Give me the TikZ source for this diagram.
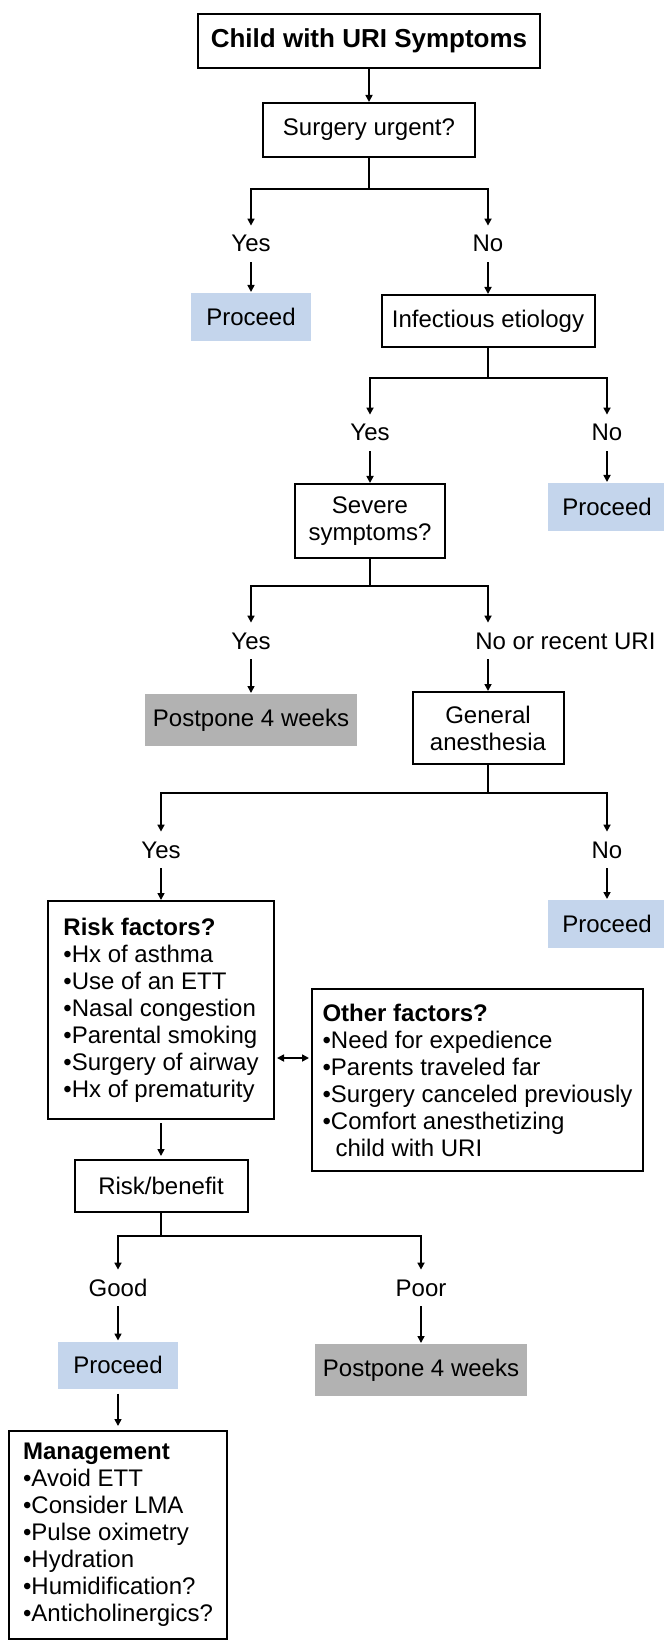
\documentclass[tikz,border=0pt]{standalone}
\usepackage{fontspec}
\setmainfont{Liberation Sans}
\usetikzlibrary{arrows.meta,positioning,calc}
\definecolor{cazul}{HTML}{C4D5EC}
\definecolor{cgris}{HTML}{B2B2B2}
\tikzset{
  caja/.style={draw=black,line width=1pt,align=center,inner sep=0pt,
               font=\fontsize{12}{13.5}\selectfont},
  cajaaz/.style={caja,draw=none,fill=cazul},
  cajagr/.style={caja,draw=none,fill=cgris},
  lista/.style={caja,align=left},
  flecha/.style={-{Triangle[length=3.5pt,width=3.5pt]},line width=0.8pt},
  doble/.style={{Triangle[length=3.5pt,width=3.5pt]}-{Triangle[length=3.5pt,width=3.5pt]},
                line width=0.8pt,shorten <=1pt,shorten >=1pt},
  linea/.style={line width=0.8pt},
  et/.style={font=\fontsize{12}{13.5}\selectfont,inner xsep=0pt,inner ysep=4pt,
             text height=9pt,text depth=0pt},
}

\begin{document}
\begin{tikzpicture}[x=0.5pt,y=-0.5pt]
\useasboundingbox (0,0) rectangle (663,1641);

% ---------------- inicio ----------------
\node[caja,font=\fontsize{13}{15}\selectfont\bfseries,minimum width=171pt,minimum height=27pt]
  (ini) at (369,41) {Child with URI Symptoms};
\node[caja,minimum width=106pt,minimum height=27pt] (urg) at (369,130) {Surgery urgent?};
\draw[flecha] (ini) -- (urg);

% ---------------- urgente ----------------
\coordinate (j1) at (369,189);
\node[et] (si1) at (251,243) {Yes};
\node[et] (no1) at (488,243) {No};
\node[cajaaz,minimum width=60pt,minimum height=24pt] (pro1) at (251,317) {Proceed};
\node[caja,minimum width=106.5pt,minimum height=26pt] (inf) at (488,321) {Infectious etiology};

\draw[linea] (urg) -- (j1);
\draw[flecha] (j1) -| (si1.north);
\draw[flecha] (j1) -| (no1.north);
\draw[flecha,shorten <=1pt] (si1) -- (pro1);
\draw[flecha,shorten <=1pt] (no1) -- (inf);

% ---------------- etiologia ----------------
\coordinate (j2) at (488,378);
\node[et] (si2) at (370,432) {Yes};
\node[et] (no2) at (607,432) {No};
\node[caja,minimum width=75pt,minimum height=37pt] (sev) at (370,521) {Severe\\symptoms?};
\node[cajaaz,minimum width=59pt,minimum height=24pt] (pro2) at (607,507) {Proceed};

\draw[linea] (inf) -- (j2);
\draw[flecha] (j2) -| (si2.north);
\draw[flecha] (j2) -| (no2.north);
\draw[flecha,shorten <=1pt] (si2) -- (sev);
\draw[flecha,shorten <=1pt] (no2) -- (pro2);

% ---------------- sintomas ----------------
\coordinate (j3) at (370,586);
\node[et] (si3) at (251,640) {Yes};
\node[et,anchor=west] (no3) at (475,640) {No or recent URI};
\node[cajagr,minimum width=106pt,minimum height=26pt] (pos1) at (251,720) {Postpone 4 weeks};
\node[caja,minimum width=75.5pt,minimum height=36pt] (gen) at (488,728) {General\\anesthesia};

\draw[linea] (sev) -- (j3);
\draw[flecha] (j3) -| (si3.north);
\draw[flecha] (j3) -| (no3.north -| gen.north);
\draw[flecha,shorten <=1pt] (si3) -- (pos1);
\draw[flecha,shorten <=1pt] (no3.south -| gen.north) -- (gen.north);

% ---------------- anestesia ----------------
\coordinate (j4) at (488,793);
\node[et] (si4) at (161,849) {Yes};
\node[et] (no4) at (607,849) {No};
\node[lista,minimum width=113pt,minimum height=109pt] (rf) at (161,1010)
  {\textbf{Risk factors?}\\•Hx of asthma\\•Use of an ETT\\•Nasal congestion\\
   •Parental smoking\\•Surgery of airway\\•Hx of prematurity};
\node[cajaaz,minimum width=59pt,minimum height=24pt] (pro3) at (607,924) {Proceed};
\node[lista,minimum width=165.5pt,minimum height=91pt] (otr) at (477.5,1080)
  {\textbf{Other factors?}\\•Need for expedience\\•Parents traveled far\\
   •Surgery canceled previously\\•Comfort anesthetizing\\\hspace*{6.5pt}child with URI};

\draw[linea] (gen) -- (j4);
\draw[flecha] (j4) -| (si4.north);
\draw[flecha] (j4) -| (no4.north);
\draw[flecha,shorten <=1pt] (si4) -- (rf);
\draw[flecha,shorten <=1pt] (no4) -- (pro3);
\draw[doble] ([yshift=-24pt]rf.east) -- ([yshift=-24pt]rf.east -| otr.west);

% ---------------- riesgo/beneficio ----------------
\node[caja,minimum width=86.5pt,minimum height=26pt] (rb) at (161,1186) {Risk/benefit};
\draw[flecha,shorten <=1.5pt,shorten >=1.5pt] (rf) -- (rb);

\coordinate (j5) at (161,1236);
\node[et] (bue) at (118,1287) {Good};
\node[et] (mal) at (421,1287) {Poor};
\node[cajaaz,minimum width=60pt,minimum height=23.5pt] (pro4) at (118,1365) {Proceed};
\node[cajagr,minimum width=106pt,minimum height=26pt] (pos2) at (421,1370) {Postpone 4 weeks};
\node[lista,minimum width=109pt,minimum height=104pt] (man) at (118,1535)
  {\textbf{Management}\\•Avoid ETT\\•Consider LMA\\•Pulse oximetry\\
   •Hydration\\•Humidification?\\•Anticholinergics?};

\draw[linea] (rb) -- (j5);
\draw[flecha] (j5) -| (bue.north);
\draw[flecha] (j5) -| (mal.north);
\draw[flecha,shorten <=1pt] (bue) -- (pro4);
\draw[flecha,shorten <=1pt] (mal) -- (pos2);
\draw[flecha,shorten <=2pt,shorten >=2pt] (pro4) -- (man);

\end{tikzpicture}
\end{document}
